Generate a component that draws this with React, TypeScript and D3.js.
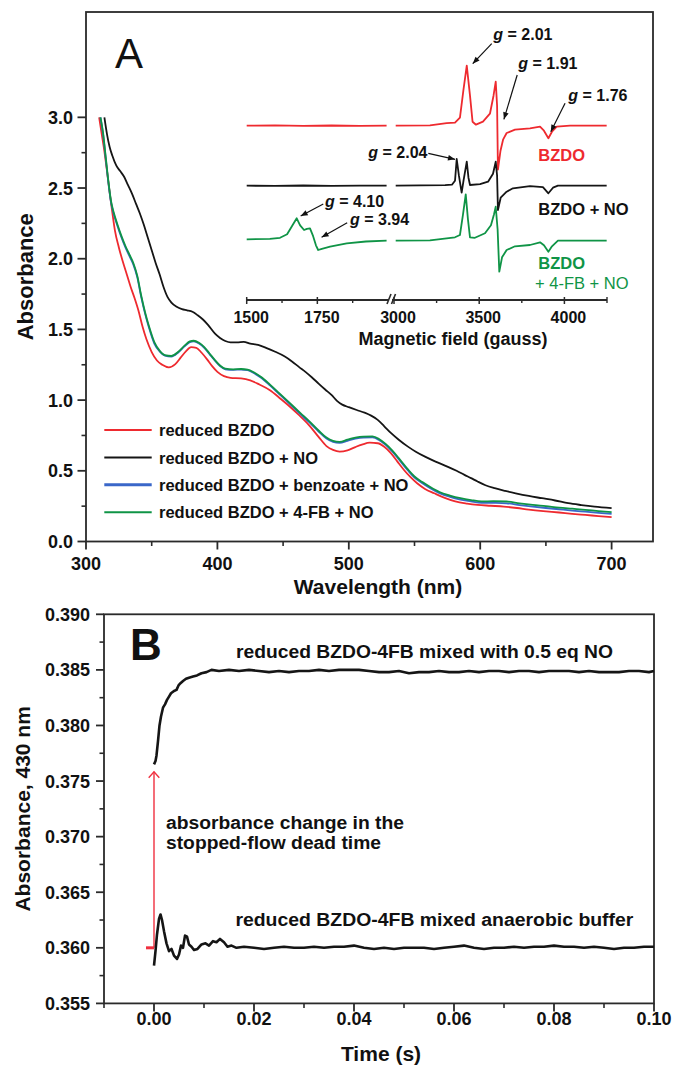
import React from 'react';
import * as d3 from 'd3';

type P = [number, number];
const FONT = '"Liberation Sans", Arial, Helvetica, sans-serif';
const RED = '#ee2a2f';
const GREEN = '#0f9446';
const BLUE = '#3a67c9';
const BLACK = '#151515';
const AX = '#2a2a2a';

// ---------- Panel A: UV-vis spectra (wavelength nm, absorbance) ----------
const uvRed: P[] = [
  [310, 3.0], [312, 2.88], [314, 2.76], [316, 2.62], [318, 2.47], [320, 2.33], [322, 2.2], [325, 2.08],
  [328, 1.98], [331, 1.89], [334, 1.8], [337, 1.72], [340, 1.63], [343, 1.52], [346, 1.43], [350, 1.34],
  [354, 1.28], [358, 1.25], [363, 1.232], [368, 1.255], [372, 1.3], [376, 1.345], [380, 1.375], [384, 1.37],
  [388, 1.335], [392, 1.29], [396, 1.24], [400, 1.2], [405, 1.17], [410, 1.158], [418, 1.154], [425, 1.14],
  [432, 1.11], [440, 1.07], [448, 1.01], [455, 0.955], [462, 0.895], [470, 0.82], [477, 0.74], [483, 0.675],
  [488, 0.648], [493, 0.636], [499, 0.645], [505, 0.668], [510, 0.685], [516, 0.699], [522, 0.695], [527, 0.67],
  [532, 0.625], [537, 0.565], [542, 0.506], [547, 0.455], [552, 0.412], [558, 0.372], [565, 0.341], [573, 0.308],
  [581, 0.283], [590, 0.268], [598, 0.259], [608, 0.253], [618, 0.247], [628, 0.237], [637, 0.226], [648, 0.215],
  [660, 0.205], [670, 0.196], [680, 0.188], [690, 0.18], [700, 0.172],
];
const uvNO: P[] = [
  [314, 3.0], [316, 2.88], [318, 2.79], [320, 2.73], [323, 2.66], [326, 2.62], [329, 2.58], [332, 2.52],
  [335, 2.46], [338, 2.39], [341, 2.32], [344, 2.24], [347, 2.15], [350, 2.06], [353, 1.97], [356, 1.89],
  [359, 1.8], [362, 1.73], [365, 1.69], [369, 1.66], [373, 1.643], [377, 1.635], [381, 1.625], [385, 1.6],
  [389, 1.57], [393, 1.53], [398, 1.472], [402, 1.44], [406, 1.418], [410, 1.408], [415, 1.408], [420, 1.412],
  [425, 1.4], [431, 1.39], [437, 1.37], [444, 1.342], [451, 1.31], [457, 1.272], [462, 1.235], [467, 1.2],
  [472, 1.16], [477, 1.117], [482, 1.075], [487, 1.035], [491, 0.995], [495, 0.968], [500, 0.95], [506, 0.93],
  [512, 0.911], [517, 0.89], [522, 0.86], [527, 0.815], [532, 0.768], [538, 0.72], [545, 0.671], [551, 0.635],
  [558, 0.6], [566, 0.565], [575, 0.53], [582, 0.5], [588, 0.471], [593, 0.448], [598, 0.424], [604, 0.398],
  [611, 0.377], [619, 0.358], [627, 0.341], [637, 0.322], [647, 0.306], [657, 0.29], [667, 0.271], [677, 0.258],
  [687, 0.247], [700, 0.236],
];
const uvBenzoate: P[] = [
  [311, 3.0], [313, 2.88], [315, 2.71], [317, 2.54], [319, 2.4], [321, 2.32], [324, 2.23], [327, 2.15],
  [330, 2.08], [333, 2.02], [336, 1.96], [339, 1.87], [342, 1.73], [345, 1.61], [348, 1.51], [352, 1.4],
  [356, 1.345], [360, 1.315], [365, 1.308], [370, 1.335], [375, 1.38], [379, 1.41], [382, 1.415], [386, 1.4],
  [390, 1.37], [394, 1.325], [398, 1.28], [402, 1.24], [406, 1.218], [412, 1.214], [418, 1.216], [423, 1.212],
  [428, 1.19], [433, 1.16], [440, 1.104], [447, 1.043], [455, 0.973], [463, 0.902], [470, 0.842], [477, 0.778],
  [483, 0.728], [488, 0.705], [493, 0.698], [499, 0.712], [505, 0.727], [511, 0.735], [518, 0.736], [523, 0.718],
  [528, 0.683], [533, 0.637], [538, 0.582], [545, 0.502], [550, 0.452], [556, 0.412], [562, 0.377], [569, 0.342],
  [577, 0.316], [585, 0.297], [593, 0.284], [601, 0.274], [610, 0.273], [620, 0.27], [630, 0.258], [640, 0.247],
  [650, 0.237], [660, 0.228], [670, 0.219], [680, 0.211], [690, 0.203], [700, 0.195],
];
const uv4FB: P[] = [
  [311, 3.0], [313, 2.89], [315, 2.72], [317, 2.55], [319, 2.41], [321, 2.33], [324, 2.24], [327, 2.16],
  [330, 2.09], [333, 2.03], [336, 1.97], [339, 1.88], [342, 1.74], [345, 1.62], [348, 1.52], [352, 1.41],
  [356, 1.35], [360, 1.318], [365, 1.312], [370, 1.34], [375, 1.385], [379, 1.415], [382, 1.42], [386, 1.405],
  [390, 1.375], [394, 1.33], [398, 1.284], [402, 1.245], [406, 1.222], [412, 1.218], [418, 1.22], [423, 1.216],
  [428, 1.195], [433, 1.165], [440, 1.11], [447, 1.05], [455, 0.98], [463, 0.91], [470, 0.85], [477, 0.785],
  [483, 0.735], [488, 0.712], [493, 0.705], [499, 0.72], [505, 0.735], [511, 0.742], [518, 0.743], [523, 0.725],
  [528, 0.69], [533, 0.645], [538, 0.59], [545, 0.51], [550, 0.46], [556, 0.42], [562, 0.385], [569, 0.35],
  [577, 0.325], [585, 0.306], [593, 0.293], [601, 0.284], [610, 0.285], [620, 0.283], [630, 0.27], [640, 0.259],
  [650, 0.25], [660, 0.24], [670, 0.232], [680, 0.224], [690, 0.215], [700, 0.207],
];
const uvLabels = ['reduced BZDO', 'reduced BZDO + NO', 'reduced BZDO + benzoate + NO', 'reduced BZDO + 4-FB + NO'];
const uvColors = [RED, BLACK, BLUE, GREEN];
const uvTicksX = [300, 400, 500, 600, 700];
const uvTicksY = [0, 0.5, 1.0, 1.5, 2.0, 2.5, 3.0];

// ---------- Inset: EPR spectra (gauss, relative intensity) ----------
const eprRedLow: P[] = [[1500, 0], [1600, 0.3], [1700, -0.2], [1800, 0.2], [1900, -0.1], [1995, 0]];
const eprRedHigh: P[] = [
  [3010, 0], [3211, 0.3], [3309, 2.5], [3358, 3], [3387, 8], [3407, 35], [3427, 60], [3446, 30], [3461, 4],
  [3481, 1], [3522, 4], [3563, 12], [3584, 30], [3597, 44], [3605, 20], [3610, -44], [3625, -25], [3640, -14],
  [3661, -7.3], [3710, -4], [3798, -2.6], [3857, -1], [3880, -5], [3906, -12.6], [3927, -6], [3955, -1],
  [4033, 0], [4248, 0],
];
const eprBlackLow: P[] = [[1500, 0], [1600, -0.2], [1700, 0.2], [1800, -0.2], [1900, 0.1], [1995, 0]];
const eprBlackHigh: P[] = [
  [3010, 0], [3300, 0.5], [3340, 1], [3358, 5], [3368, 26.7], [3381, 10], [3397, -7], [3408, 5], [3427, 24],
  [3437, 8], [3446, 0.7], [3505, 1.5], [3552, 4], [3581, 12], [3597, 24], [3605, 10], [3610, -24.3],
  [3626, -12], [3661, -6], [3698, -2.6], [3798, -0.5], [3874, -1.5], [3906, -7.6], [3933, -2], [3962, 0],
  [4248, 0],
];
const eprGreenLow: P[] = [
  [1500, 0], [1582, 0.5], [1618, 1.5], [1643, 5], [1660, 13], [1677, 21], [1689, 14], [1703, 9.3], [1713, 10.5],
  [1724, 11], [1734, 4], [1745, -6], [1753, -10.7], [1766, -9.5], [1795, -7.4], [1854, -4], [1922, -2.2],
  [1995, -1.4],
];
const eprGreenHigh: P[] = [
  [3010, -1.4], [3211, -1], [3358, 2], [3387, 4.3], [3405, 25], [3421, 45], [3434, 20], [3446, 2], [3475, 1.5],
  [3534, 6], [3569, 14], [3587, 25], [3597, 32.6], [3608, 10], [3618, -32.4], [3634, -18], [3661, -10.7],
  [3710, -7], [3798, -5.7], [3857, -3], [3880, -6], [3906, -12.4], [3927, -7], [3962, -1.4], [4248, -1.4],
];
const eprOffsets = [0, -60, -113.6];
const eprTicksLow = [1500, 1750];
const eprMinorLow = [1625, 1875];
const eprTicksHigh = [3000, 3500, 4000];
const eprMinorHigh = [3250, 3750, 4250];

// ---------- Panel B: stopped-flow kinetics (s, absorbance at 430 nm) ----------
const kinNO: P[] = [
  [0.0, 0.3765], [0.0003, 0.3768], [0.0005, 0.3773], [0.0008, 0.3786], [0.0011, 0.38], [0.0014, 0.3808],
  [0.0018, 0.3816], [0.0022, 0.3819], [0.0026, 0.3823], [0.003, 0.3826], [0.0034, 0.3829], [0.004, 0.3831],
  [0.0045, 0.3832], [0.0049, 0.3836], [0.0053, 0.3838], [0.0058, 0.384], [0.0064, 0.3842], [0.007, 0.3843],
  [0.0078, 0.3844], [0.0086, 0.3845], [0.0095, 0.3847], [0.0105, 0.3848], [0.0115, 0.385], [0.013, 0.3849],
  [0.015, 0.385], [0.017, 0.3849], [0.019, 0.385], [0.021, 0.3849], [0.023, 0.3848], [0.025, 0.3849],
  [0.027, 0.3848], [0.029, 0.3849], [0.031, 0.3849], [0.033, 0.385], [0.035, 0.3849], [0.037, 0.385],
  [0.039, 0.385], [0.041, 0.385], [0.043, 0.3849], [0.045, 0.3848], [0.047, 0.3848], [0.049, 0.3849],
  [0.051, 0.3847], [0.053, 0.3848], [0.055, 0.3848], [0.057, 0.3849], [0.059, 0.3848], [0.061, 0.3848],
  [0.063, 0.3849], [0.065, 0.3848], [0.067, 0.3849], [0.069, 0.3849], [0.071, 0.3848], [0.073, 0.3849],
  [0.075, 0.3849], [0.077, 0.3848], [0.079, 0.3849], [0.081, 0.3849], [0.083, 0.3849], [0.085, 0.3848],
  [0.087, 0.3849], [0.089, 0.3848], [0.091, 0.3848], [0.093, 0.3848], [0.095, 0.3849], [0.097, 0.3849],
  [0.099, 0.3848], [0.1, 0.3849],
];
const kinBuffer: P[] = [
  [0.0, 0.3584], [0.0003, 0.3597], [0.0006, 0.3612], [0.001, 0.3626], [0.0013, 0.363], [0.0016, 0.3625],
  [0.002, 0.3615], [0.0025, 0.3604], [0.003, 0.3597], [0.0035, 0.3599], [0.004, 0.3593], [0.0046, 0.359],
  [0.005, 0.3594], [0.0054, 0.3602], [0.0058, 0.36], [0.0062, 0.3611], [0.0066, 0.361], [0.007, 0.3603],
  [0.0075, 0.3601], [0.008, 0.3598], [0.0087, 0.3599], [0.0095, 0.3603], [0.0103, 0.3604], [0.011, 0.3602],
  [0.0118, 0.3606], [0.0125, 0.3605], [0.0132, 0.3608], [0.014, 0.3605], [0.0147, 0.3601], [0.0155, 0.3602],
  [0.0165, 0.36], [0.018, 0.3601], [0.02, 0.36], [0.022, 0.3599], [0.024, 0.36], [0.026, 0.3601], [0.028, 0.36],
  [0.03, 0.36], [0.032, 0.3601], [0.034, 0.36], [0.036, 0.3601], [0.038, 0.3601], [0.04, 0.3602], [0.042, 0.36],
  [0.044, 0.3599], [0.046, 0.36], [0.048, 0.3599], [0.05, 0.36], [0.052, 0.36], [0.054, 0.36], [0.056, 0.3599],
  [0.058, 0.36], [0.06, 0.3601], [0.062, 0.3602], [0.064, 0.36], [0.066, 0.3599], [0.068, 0.36], [0.07, 0.36],
  [0.072, 0.3601], [0.074, 0.36], [0.076, 0.3601], [0.078, 0.3601], [0.08, 0.3602], [0.082, 0.3601],
  [0.084, 0.3601], [0.086, 0.36], [0.088, 0.3601], [0.09, 0.36], [0.092, 0.3599], [0.094, 0.36], [0.096, 0.36],
  [0.098, 0.3601], [0.1, 0.3601],
];
const kinBaseline = 0.36;
const kinDeadStart = -0.0016;
const kinArrowTop = 0.37584;
const kinTicksX = [0, 0.02, 0.04, 0.06, 0.08, 0.1];
const kinMinorX = [-0.01, 0.01, 0.03, 0.05, 0.07, 0.09];
const kinTicksY = [0.355, 0.36, 0.365, 0.37, 0.375, 0.38, 0.385, 0.39];

export default function App() {
  // Panel A
  const xA = d3.scaleLinear().domain([300, 731.5]).range([86, 653]);
  const yA = d3.scaleLinear().domain([0, 3.745]).range([541.5, 12]);
  const lineA = d3.line<P>().x(d => xA(d[0])).y(d => yA(d[1])).curve(d3.curveMonotoneX);
  const uvSeries = [uvRed, uvNO, uvBenzoate, uv4FB];
  const minorXA = d3.range(350, 700, 100);
  const minorYA = d3.range(0.25, 3.0, 0.5);

  // Inset
  const xLo = d3.scaleLinear().domain([1500, 2000]).range([246.7, 388]);
  const xHi = d3.scaleLinear().domain([3000, 4250]).range([394, 607]);
  const yIn = d3.scaleLinear().domain([-150, 75]).range([275.7, 50.7]);
  const insetAxisY = 300;
  const mkLine = (sx: d3.ScaleLinear<number, number>, off: number) =>
    d3.line<P>().x(d => sx(d[0])).y(d => yIn(d[1] + off));
  const eprTraces = [
    { color: RED, lo: eprRedLow, hi: eprRedHigh, off: eprOffsets[0] },
    { color: BLACK, lo: eprBlackLow, hi: eprBlackHigh, off: eprOffsets[1] },
    { color: GREEN, lo: eprGreenLow, hi: eprGreenHigh, off: eprOffsets[2] },
  ];
  // arrow targets in data space: [gauss, intensity incl. offset], tail offset in px
  const gArrows = [
    { seg: 'hi', g: 3462, v: 62, dx: 19, dy: -20 },
    { seg: 'hi', g: 3645, v: 6.4, dx: 13.3, dy: -44.3 },
    { seg: 'hi', g: 3920, v: -6, dx: 14.3, dy: -28.4 },
    { seg: 'hi', g: 3358, v: -33.6, dx: -26.7, dy: -6 },
    { seg: 'lo', g: 1691, v: -90.3, dx: 22.6, dy: -12 },
    { seg: 'lo', g: 1765, v: -111.6, dx: 25.6, dy: -14.6 },
  ];
  const gLabels = [
    { t: '2.01', x: 493.3, y: 40 },
    { t: '1.91', x: 518.3, y: 69.3 },
    { t: '1.76', x: 568.3, y: 100.7 },
    { t: '2.04', x: 368.3, y: 158.3 },
    { t: '4.10', x: 325, y: 206.7 },
    { t: '3.94', x: 350, y: 225 },
  ];

  // Panel B
  const xB = d3.scaleLinear().domain([-0.01, 0.1]).range([104, 654]);
  const yB = d3.scaleLinear().domain([0.355, 0.39]).range([1003.4, 614.3]);
  const lineB = d3.line<P>().x(d => xB(d[0])).y(d => yB(d[1]));
  const minorYB = d3.range(0.3575, 0.39, 0.005);

  const tickLabel = { fontFamily: FONT, fontWeight: 700, fill: '#111' } as const;

  return (
    <svg width={675} height={1066} style={{ position: 'absolute', left: 0, top: 0, background: '#fff' }}
      fontFamily={FONT}>
      <defs>
        <marker id="ah" viewBox="0 0 10 10" refX="10" refY="5" markerWidth="8" markerHeight="7"
          orient="auto" markerUnits="userSpaceOnUse">
          <path d="M0,1 L10,5 L0,9 z" fill="#111" />
        </marker>
      </defs>
      <rect x={0} y={0} width={675} height={1066} fill="#fff" />

      {/* ================= Panel A ================= */}
      <rect x={xA(300)} y={yA(3.745)} width={xA(731.5) - xA(300)} height={yA(0) - yA(3.745)}
        fill="none" stroke={AX} strokeWidth={1.8} />
      {uvTicksX.map(t => (
        <g key={'ax' + t}>
          <line x1={xA(t)} x2={xA(t)} y1={yA(0)} y2={yA(0) + 8} stroke={AX} strokeWidth={1.8} />
          <text x={xA(t)} y={570} textAnchor="middle" fontSize={18} {...tickLabel}>{t}</text>
        </g>
      ))}
      {minorXA.map(t => (
        <line key={'amx' + t} x1={xA(t)} x2={xA(t)} y1={yA(0)} y2={yA(0) + 4.5} stroke={AX} strokeWidth={1.6} />
      ))}
      {uvTicksY.map(t => (
        <g key={'ay' + t}>
          <line x1={xA(300) - 8.5} x2={xA(300)} y1={yA(t)} y2={yA(t)} stroke={AX} strokeWidth={1.8} />
          <text x={73} y={yA(t) + 6.5} textAnchor="end" fontSize={18} {...tickLabel}>{t.toFixed(1)}</text>
        </g>
      ))}
      {minorYA.map(t => (
        <line key={'amy' + t} x1={xA(300) - 4.5} x2={xA(300)} y1={yA(t)} y2={yA(t)} stroke={AX} strokeWidth={1.6} />
      ))}
      <text x={378} y={594} textAnchor="middle" fontSize={21} fontWeight={700} fill="#111">Wavelength (nm)</text>
      <text transform={`translate(33,${(yA(0) + yA(3.745)) / 2}) rotate(-90)`} textAnchor="middle" fontSize={22}
        fontWeight={700} fill="#111">Absorbance</text>
      <text x={115} y={68} fontSize={42} fill="#111">A</text>

      {uvSeries.map((s, i) => (
        <path key={'uv' + i} d={lineA(s) || ''} fill="none" stroke={uvColors[i]} strokeWidth={1.8}
          strokeLinejoin="round" />
      ))}

      {/* legend */}
      {uvLabels.map((lab, i) => {
        const y = 430 + i * 27.4;
        return (
          <g key={'lg' + i}>
            <line x1={104.3} x2={151.7} y1={y} y2={y} stroke={uvColors[i]} strokeWidth={i === 2 ? 3 : 2} />
            <text x={159} y={y + 6.2} fontSize={16.5} fontWeight={700} fill="#111">{lab}</text>
          </g>
        );
      })}

      {/* ================= Inset (EPR) ================= */}
      {eprTraces.map((tr, i) => (
        <g key={'epr' + i}>
          <path d={mkLine(xLo, tr.off)(tr.lo) || ''} fill="none" stroke={tr.color} strokeWidth={1.8}
            strokeLinejoin="round" />
          <path d={mkLine(xHi, tr.off)(tr.hi) || ''} fill="none" stroke={tr.color} strokeWidth={1.8}
            strokeLinejoin="round" />
        </g>
      ))}
      <line x1={xLo(1500)} x2={xLo(2000) + 1} y1={insetAxisY} y2={insetAxisY} stroke={AX} strokeWidth={1.8} />
      <line x1={xHi(3000) - 2} x2={xHi(4250)} y1={insetAxisY} y2={insetAxisY} stroke={AX} strokeWidth={1.8} />
      <line x1={xLo(2000) - 1} y1={insetAxisY + 4} x2={xLo(2000) + 3} y2={insetAxisY - 6} stroke={AX} strokeWidth={1.6} />
      <line x1={xLo(2000) + 3.5} y1={insetAxisY + 4} x2={xLo(2000) + 7.5} y2={insetAxisY - 6} stroke={AX} strokeWidth={1.6} />
      {eprTicksLow.map(t => (
        <g key={'ilo' + t}>
          <line x1={xLo(t)} x2={xLo(t)} y1={insetAxisY - 3} y2={insetAxisY + 4} stroke={AX} strokeWidth={1.5} />
          <text x={xLo(t) + 4.5} y={322.5} textAnchor="middle" fontSize={16} {...tickLabel}>{t}</text>
        </g>
      ))}
      {eprTicksHigh.map(t => (
        <g key={'ihi' + t}>
          <line x1={xHi(t)} x2={xHi(t)} y1={insetAxisY - 3} y2={insetAxisY + 4} stroke={AX} strokeWidth={1.5} />
          <text x={xHi(t) + 4} y={322.5} textAnchor="middle" fontSize={16} {...tickLabel}>{t}</text>
        </g>
      ))}
      {eprMinorLow.map(t => (
        <line key={'imlo' + t} x1={xLo(t)} x2={xLo(t)} y1={insetAxisY} y2={insetAxisY + 3} stroke={AX} strokeWidth={1.4} />
      ))}
      {eprMinorHigh.map(t => (
        <line key={'imhi' + t} x1={xHi(t)} x2={xHi(t)} y1={insetAxisY - (t === 4250 ? 3 : 0)} y2={insetAxisY + 3}
          stroke={AX} strokeWidth={1.4} />
      ))}
      <text x={453} y={344.5} textAnchor="middle" fontSize={18} fontWeight={700} fill="#111">Magnetic field (gauss)</text>

      {gArrows.map((a, i) => {
        const tx = a.seg === 'hi' ? xHi(a.g) : xLo(a.g);
        const ty = yIn(a.v);
        return (
          <line key={'ga' + i} x1={tx + a.dx} y1={ty + a.dy} x2={tx} y2={ty} stroke="#111" strokeWidth={1.2}
            markerEnd="url(#ah)" />
        );
      })}
      {gLabels.map((l, i) => (
        <text key={'gl' + i} x={l.x} y={l.y} fontSize={16} fontWeight={700} fill="#111">
          <tspan fontStyle="italic">g</tspan> = {l.t}
        </text>
      ))}
      <text x={538.3} y={160.7} fontSize={16.5} fontWeight={700} fill={RED}>BZDO</text>
      <text x={538.3} y={215} fontSize={16.5} fontWeight={700} fill="#111">BZDO + NO</text>
      <text x={538.3} y={269.3} fontSize={16.5} fontWeight={700} fill={GREEN}>BZDO</text>
      <text x={535} y={289.3} fontSize={16.5} fill={GREEN}>+ 4-FB + NO</text>

      {/* ================= Panel B ================= */}
      <rect x={xB(-0.01)} y={yB(0.39)} width={xB(0.1) - xB(-0.01)} height={yB(0.355) - yB(0.39)}
        fill="none" stroke={AX} strokeWidth={1.8} />
      {kinTicksX.map(t => (
        <g key={'bx' + t}>
          <line x1={xB(t)} x2={xB(t)} y1={yB(0.355)} y2={yB(0.355) + 8} stroke={AX} strokeWidth={1.8} />
          <text x={xB(t)} y={1025} textAnchor="middle" fontSize={18} {...tickLabel}>{t.toFixed(2)}</text>
        </g>
      ))}
      {kinMinorX.map(t => (
        <line key={'bmx' + t} x1={xB(t)} x2={xB(t)} y1={yB(0.355)} y2={yB(0.355) + 4.5} stroke={AX} strokeWidth={1.6} />
      ))}
      {kinTicksY.map(t => (
        <g key={'by' + t}>
          <line x1={xB(-0.01) - 8} x2={xB(-0.01)} y1={yB(t)} y2={yB(t)} stroke={AX} strokeWidth={1.8} />
          <text x={90} y={yB(t) + 6.5} textAnchor="end" fontSize={18} {...tickLabel}>{t.toFixed(3)}</text>
        </g>
      ))}
      {minorYB.map(t => (
        <line key={'bmy' + t} x1={xB(-0.01) - 4.5} x2={xB(-0.01)} y1={yB(t)} y2={yB(t)} stroke={AX} strokeWidth={1.6} />
      ))}
      <text x={381} y={1061} textAnchor="middle" fontSize={21} fontWeight={700} fill="#111">Time (s)</text>
      <text transform={`translate(30,${(yB(0.355) + yB(0.39)) / 2}) rotate(-90)`} textAnchor="middle" fontSize={21}
        fontWeight={700} fill="#111">Absorbance, 430 nm</text>
      <text x={130} y={660} fontSize={44} fontWeight={700} fill="#111">B</text>

      {/* dead-time markers */}
      <line x1={xB(kinDeadStart)} x2={xB(0)} y1={yB(kinBaseline)} y2={yB(kinBaseline)} stroke="#f0303f" strokeWidth={3} />
      <line x1={xB(0)} x2={xB(0)} y1={yB(kinBaseline)} y2={yB(kinArrowTop)} stroke="#f0303f" strokeWidth={1.4} />
      <path d={`M${xB(0) - 5.3},${yB(kinArrowTop) + 6} L${xB(0)},${yB(kinArrowTop)} L${xB(0) + 5.3},${yB(kinArrowTop) + 6}`}
        fill="none" stroke="#f0303f" strokeWidth={1.4} />

      <path d={lineB(kinBuffer) || ''} fill="none" stroke={BLACK} strokeWidth={2.6} strokeLinejoin="round" />
      <path d={lineB(kinNO) || ''} fill="none" stroke={BLACK} strokeWidth={2.6} strokeLinejoin="round" />

      <text x={236} y={658} fontSize={17.5} fontWeight={700} fill="#111" textLength={377}
        lengthAdjust="spacingAndGlyphs">reduced BZDO-4FB mixed with 0.5 eq NO</text>
      <text x={166} y={829.3} fontSize={17.5} fontWeight={700} fill="#111" textLength={238}
        lengthAdjust="spacingAndGlyphs">absorbance change in the</text>
      <text x={166} y={849.3} fontSize={17.5} fontWeight={700} fill="#111" textLength={215}
        lengthAdjust="spacingAndGlyphs">stopped-flow dead time</text>
      <text x={235.4} y={926} fontSize={17.5} fontWeight={700} fill="#111" textLength={398}
        lengthAdjust="spacingAndGlyphs">reduced BZDO-4FB mixed anaerobic buffer</text>
    </svg>
  );
}
